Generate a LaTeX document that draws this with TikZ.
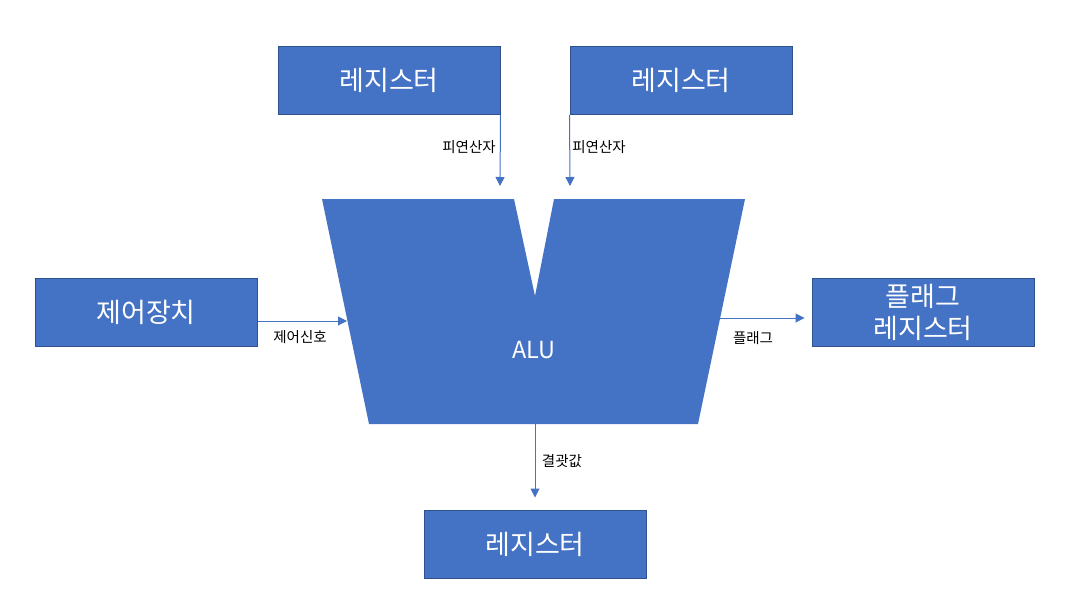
\documentclass[tikz,border=0pt]{standalone}
\usepackage{fontspec}
\setmainfont{Noto Sans CJK KR}
\usetikzlibrary{arrows.meta}
\usetikzlibrary{positioning}
\definecolor{boxblue}{HTML}{4472C4}
\definecolor{edgeblue}{HTML}{2F528F}
\tikzset{regbox/.style = {fill=boxblue, draw=edgeblue, line width=1pt, text=white,
                          minimum width=222pt, minimum height=68pt, inner sep=0,
                          align=center, font=\fontsize{27}{32}\selectfont}}
\tikzset{flow/.style = {draw=boxblue, line width=1pt, -{Triangle[length=9pt, width=9pt]}}}
\tikzset{tag/.style = {inner sep=0, font=\fontsize{14.5}{16}\selectfont}}

\begin{document}
\begin{tikzpicture}[x=1pt, y=-1pt]
      \useasboundingbox (0,0) rectangle (1070,599);

      \node [regbox] (regL) at (389,80.5) {레지스터};
      \node [regbox] (regR) at (681,80.5) {레지스터};
      \node [regbox] (ctrl) at (146,312) {제어장치};
      \node [regbox] (flag) at (923,312) {플래그\\레지스터};
      \node [regbox] (result) at (535,544) {레지스터};

      % ALU
      \fill [boxblue] (322,199) -- (514,199) -- (535,296) -- (554,199) -- (745,199)
                      -- (698,424) -- (369,424) -- cycle;
      \node [text=white, font=\fontsize{23.5}{28}\selectfont] (alu) at (534,350) {ALU};

      \coordinate (inL) at (500,186);
      \coordinate (inR) at (570,186);
      \coordinate (inC) at (347,321);
      \coordinate (outF) at (720,318);
      \coordinate (outR) at (535,424);

      \draw [flow] (regL.south east) -- (inL);
      \draw [flow] (regR.south west) -- (inR);
      \draw [flow] (ctrl.east |- inC) -- (inC);
      \draw [flow, shorten >=7pt] (outF) -- (outF -| flag.west);
      \draw [flow, shorten >=12pt] (outR) -- (result.north);

      \node [tag] (opL) at (469,147) {피연산자};
      \node [tag] (opR) at (599,147) {피연산자};
      \node [tag] (sig) at (300,337) {제어신호};
      \node [tag] (flg) at (753,338) {플래그};
      \node [tag] (res) at (562,461) {결괏값};
\end{tikzpicture}
\end{document}
